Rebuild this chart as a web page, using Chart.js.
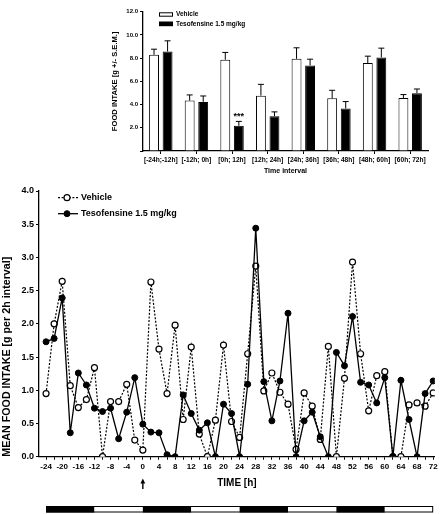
<!DOCTYPE html>
<html>
<head>
<meta charset="utf-8">
<script src="https://cdn.jsdelivr.net/npm/chart.js@4.4.1/dist/chart.umd.min.js"></script>
<style>
  html, body { margin: 0; padding: 0; background: #fff; }
  #wrap { position: relative; width: 440px; height: 514px; }
  #bar-box { position: absolute; left: 95px; top: 0; width: 345px; height: 180px; }
  #line-box { position: absolute; left: 0; top: 180px; width: 440px; height: 334px; }
</style>
</head>
<body>
<div id="wrap">
  <div id="bar-box"><canvas id="bar-chart"></canvas></div>
  <div id="line-box"><canvas id="line-chart"></canvas></div>
</div>
<script>
// 12 h totals (inset)
const intervals = ["[-24h;-12h]", "[-12h; 0h]", "[0h; 12h]", "[12h; 24h]", "[24h; 36h]", "[36h; 48h]", "[48h; 60h]", "[60h; 72h]"];
const vehicleMeans = [8.29, 4.34, 7.86, 4.77, 7.94, 4.54, 7.57, 4.57];
const vehicleSem = [0.48, 0.49, 0.63, 0.97, 0.95, 0.69, 0.60, 0.29];
const tesofMeans = [8.57, 4.23, 2.17, 3.00, 7.37, 3.66, 8.06, 4.97];
const tesofSem = [0.92, 0.51, 0.38, 0.37, 0.54, 0.60, 0.80, 0.37];
const tesofStars = ["", "", "***", "", "", "", "", ""];

// 2 h intake
const hours = [-24, -22, -20, -18, -16, -14, -12, -10, -8, -6, -4, -2, 0, 2, 4, 6, 8, 10, 12, 14, 16, 18, 20, 22, 24,
  26, 28, 30, 32, 34, 36, 38, 40, 42, 44, 46, 48, 50, 52, 54, 56, 58, 60, 62, 64, 66, 68, 70, 72];
const vehicleIntake = [0.95, 2.00, 2.64, 1.07, 0.74, 0.86, 1.34, 0.00, 0.83, 0.83, 1.09, 0.25, 0.10, 2.63, 1.62, 0.95,
  1.98, 0.56, 1.65, 0.34, 0.00, 0.55, 1.68, 0.53, 0.29, 1.55, 2.87, 0.99, 1.26, 0.97, 0.79, 0.11, 0.96, 0.76,
  0.26, 1.66, 0.00, 1.18, 2.93, 1.55, 0.69, 1.22, 1.28, 0.00, 0.00, 0.78, 0.81, 0.76, 0.96];
const tesofIntake = [1.73, 1.78, 2.39, 0.36, 1.26, 1.08, 0.73, 0.68, 0.73, 0.27, 0.67, 1.19, 0.49, 0.37, 0.36, 0.03,
  0.00, 0.93, 0.65, 0.40, 0.51, 0.00, 0.79, 0.65, 0.00, 1.09, 3.44, 1.13, 0.54, 1.14, 2.16, 0.00, 0.54, 0.67,
  0.30, 0.00, 1.57, 1.37, 2.11, 1.12, 1.08, 0.81, 1.19, 0.00, 1.15, 0.56, 0.00, 0.95, 1.14];

// light/dark cycle and dosing time
const phaseEdges = [-24, -12, 0, 12, 24, 36, 48, 60, 72];
const phaseDark = [true, false, true, false, true, false, true, false];
const doseHour = 0;

const fontFamily = '"Liberation Sans", Arial, Helvetica, sans-serif';
Chart.defaults.font.family = fontFamily;
Chart.defaults.font.weight = "bold";
Chart.defaults.color = "#000";
Chart.defaults.animation = false;

const errorBars = {
  id: "errorBars",
  afterDatasetsDraw(chart) {
    const { ctx } = chart;
    const y = chart.scales.y;
    const sems = [vehicleSem, tesofSem];
    chart.data.datasets.forEach((ds, d) => {
      chart.getDatasetMeta(d).data.forEach((bar, i) => {
        const top = y.getPixelForValue(ds.data[i] + sems[d][i]);
        ctx.save();
        ctx.strokeStyle = "#000";
        ctx.lineWidth = 1;
        ctx.beginPath();
        ctx.moveTo(bar.x, bar.y);
        ctx.lineTo(bar.x, top);
        ctx.moveTo(bar.x - 3, top);
        ctx.lineTo(bar.x + 3, top);
        ctx.stroke();
        if (d === 1 && tesofStars[i]) {
          ctx.font = `bold 9px ${fontFamily}`;
          ctx.fillStyle = "#000";
          ctx.textAlign = "center";
          ctx.textBaseline = "alphabetic";
          ctx.fillText(tesofStars[i], bar.x, top - 2.5);
        }
        ctx.restore();
      });
    });
  },
};

const barKey = {
  id: "barKey",
  afterDraw(chart) {
    const { ctx } = chart;
    chart.data.datasets.forEach((ds, i) => {
      const y = 12.3 + i * 9.4;
      ctx.save();
      ctx.fillStyle = ds.backgroundColor;
      ctx.strokeStyle = "#000";
      ctx.lineWidth = 1;
      ctx.fillRect(64, y, 14, 4.4);
      ctx.strokeRect(64.5, y + 0.5, 13, 3.4);
      ctx.font = `bold 6.5px ${fontFamily}`;
      ctx.fillStyle = "#000";
      ctx.textBaseline = "middle";
      ctx.fillText(ds.label, 81, y + 2.4);
      ctx.restore();
    });
  },
};

const lineKey = {
  id: "lineKey",
  afterDraw(chart) {
    const { ctx } = chart;
    chart.data.datasets.forEach((ds, i) => {
      const y = 17.7 + i * 16;
      ctx.save();
      ctx.strokeStyle = "#000";
      ctx.lineWidth = ds.borderWidth;
      ctx.setLineDash(ds.borderDash || []);
      ctx.beginPath();
      ctx.moveTo(58, y);
      ctx.lineTo(78, y);
      ctx.stroke();
      ctx.setLineDash([]);
      ctx.beginPath();
      ctx.arc(67, y, ds.pointRadius, 0, Math.PI * 2);
      ctx.fillStyle = ds.pointBackgroundColor;
      ctx.fill();
      ctx.lineWidth = ds.pointBorderWidth;
      ctx.stroke();
      ctx.font = `bold 9px ${fontFamily}`;
      ctx.fillStyle = "#000";
      ctx.textBaseline = "middle";
      ctx.fillText(ds.label, 81, y);
      ctx.restore();
    });
  },
};

const cycleBar = {
  id: "cycleBar",
  afterDraw(chart) {
    const { ctx } = chart;
    const x = chart.scales.x;
    const top = 326;
    const h = 6.5;
    ctx.save();
    ctx.strokeStyle = "#000";
    ctx.lineWidth = 1;
    for (let i = 0; i < phaseDark.length; i++) {
      const x0 = x.getPixelForValue(phaseEdges[i]);
      const x1 = x.getPixelForValue(phaseEdges[i + 1]);
      ctx.fillStyle = phaseDark[i] ? "#000" : "#fff";
      ctx.fillRect(x0, top, x1 - x0, h);
    }
    const left = x.getPixelForValue(phaseEdges[0]);
    const right = x.getPixelForValue(phaseEdges[phaseEdges.length - 1]);
    ctx.strokeRect(left + 0.5, top + 0.5, right - left - 1, h - 1);

    // dosing arrow
    const ax = x.getPixelForValue(doseHour);
    ctx.fillStyle = "#000";
    ctx.lineWidth = 1.4;
    ctx.beginPath();
    ctx.moveTo(ax, 309);
    ctx.lineTo(ax, 302);
    ctx.stroke();
    ctx.beginPath();
    ctx.moveTo(ax, 298.5);
    ctx.lineTo(ax - 2.4, 303.5);
    ctx.lineTo(ax + 2.4, 303.5);
    ctx.closePath();
    ctx.fill();
    ctx.restore();
  },
};

function axisBorder() {
  return { color: "#000", width: 1.3 };
}

new Chart(document.getElementById("bar-chart"), {
  type: "bar",
  data: {
    labels: intervals,
    datasets: [
      {
        label: "Vehicle",
        data: vehicleMeans,
        backgroundColor: "#fff",
        borderColor: "#000",
        borderWidth: 1,
        categoryPercentage: 0.76,
        barPercentage: 0.73,
      },
      {
        label: "Tesofensine 1.5 mg/kg",
        data: tesofMeans,
        backgroundColor: "#000",
        borderColor: "#000",
        borderWidth: 1,
        categoryPercentage: 0.76,
        barPercentage: 0.73,
      },
    ],
  },
  options: {
    responsive: true,
    maintainAspectRatio: false,
    layout: { padding: { top: 11.7, right: 12, left: 0, bottom: 0 } },
    plugins: { legend: { display: false }, tooltip: { enabled: false } },
    scales: {
      x: {
        grid: { drawOnChartArea: false, offset: false, tickLength: 3, color: "#000" },
        border: axisBorder(),
        ticks: { font: { size: 6.6 }, padding: 2.5, maxRotation: 0, autoSkip: false },
        title: { display: true, text: "Time interval", font: { size: 7 }, padding: { top: 0, bottom: 5 } },
        afterFit: (scale) => {
          scale.height = 29;
        },
      },
      y: {
        min: 0,
        max: 12,
        ticks: {
          stepSize: 2,
          font: { size: 6 },
          padding: 2,
          callback: (v) => (v === 0 ? "" : v.toFixed(1)),
        },
        grid: { drawOnChartArea: false, tickLength: 3, color: "#000" },
        border: axisBorder(),
        title: {
          display: true,
          text: "FOOD INTAKE [g +/- S.E.M.]",
          font: { size: 7.6 },
          padding: { top: 15.4, bottom: 0 },
        },
        afterFit: (scale) => {
          scale.width = 48;
        },
      },
    },
  },
  plugins: [errorBars, barKey],
});

new Chart(document.getElementById("line-chart"), {
  type: "line",
  data: {
    datasets: [
      {
        label: "Vehicle",
        data: hours.map((h, i) => ({ x: h, y: vehicleIntake[i] })),
        borderColor: "#000",
        borderWidth: 1.2,
        borderDash: [2, 1.6],
        pointRadius: 3,
        pointBorderWidth: 1.2,
        pointBackgroundColor: "#fff",
        pointBorderColor: "#000",
        tension: 0,
        order: 1,
      },
      {
        label: "Tesofensine 1.5 mg/kg",
        data: hours.map((h, i) => ({ x: h, y: tesofIntake[i] })),
        borderColor: "#000",
        borderWidth: 1.3,
        pointRadius: 3,
        pointBorderWidth: 1,
        pointBackgroundColor: "#000",
        pointBorderColor: "#000",
        tension: 0,
        order: 0,
      },
    ],
  },
  options: {
    responsive: true,
    maintainAspectRatio: false,
    layout: { padding: { top: 11, right: 5, left: 0, bottom: 0 } },
    plugins: { legend: { display: false }, tooltip: { enabled: false } },
    scales: {
      x: {
        type: "linear",
        min: -25.75,
        max: 72.4,
        afterBuildTicks: (scale) => {
          scale.ticks = hours.map((h) => ({ value: h }));
        },
        ticks: {
          font: { size: 8 },
          padding: 2,
          autoSkip: false,
          maxRotation: 0,
          callback: (v) => (v % 4 === 0 ? String(v) : ""),
        },
        grid: { drawOnChartArea: false, tickLength: 3, color: "#000" },
        border: axisBorder(),
        title: { display: true, text: "TIME [h]", font: { size: 10 }, padding: { top: 0, bottom: 25 } },
        afterFit: (scale) => {
          scale.height = 57.3;
        },
      },
      y: {
        min: 0,
        max: 4,
        ticks: { stepSize: 0.5, font: { size: 9 }, padding: 2, callback: (v) => v.toFixed(1) },
        grid: { drawOnChartArea: false, tickLength: 3, color: "#000" },
        border: axisBorder(),
        title: {
          display: true,
          text: "MEAN FOOD INTAKE [g per 2h interval]",
          align: "start",
          font: { size: 10.7 },
          padding: { top: 0.5, bottom: 0 },
        },
        afterFit: (scale) => {
          scale.width = 39;
        },
      },
    },
  },
  plugins: [cycleBar, lineKey],
});
</script>
</body>
</html>
